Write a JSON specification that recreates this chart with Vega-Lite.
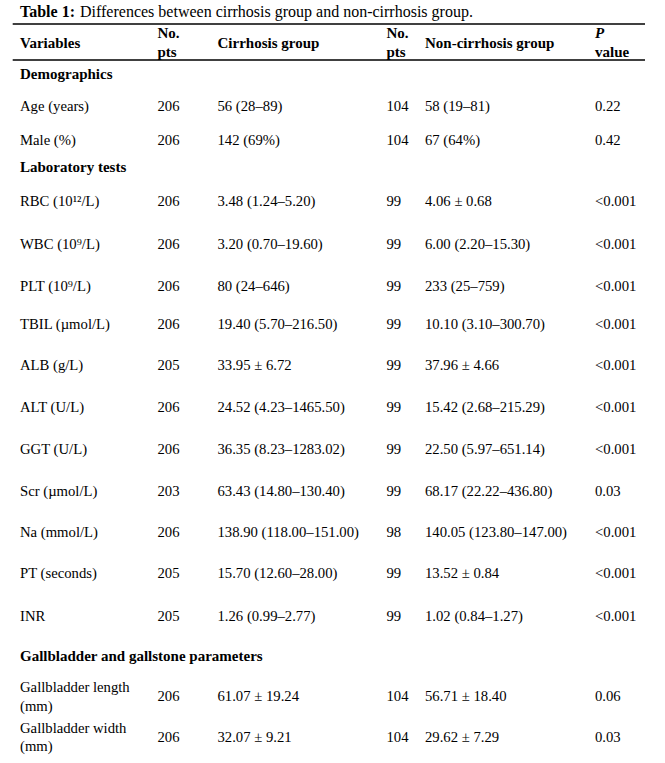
{
  "$schema": "https://vega.github.io/schema/vega-lite/v6.json",
  "width": 665,
  "height": 763,
  "padding": 0,
  "autosize": {"type": "fit", "contains": "padding"},
  "background": "white",
  "config": {
    "view": {"stroke": null},
    "font": "Liberation Serif",
    "text": {"font": "Liberation Serif", "fontSize": 14.5, "align": "left", "baseline": "middle", "color": "black"}
  },
  "datasets": {
    "cells": [
      {"line": 0, "col": 1, "kind": "titleBold", "text": "Table 1:"},
      {"line": 0, "col": 1, "kind": "title", "text": "Differences between cirrhosis group and non-cirrhosis group."},
      {"line": 3, "col": 1, "kind": "head", "text": "Variables"},
      {"line": 2, "col": 2, "kind": "head", "text": "No."},
      {"line": 4, "col": 2, "kind": "head", "text": "pts"},
      {"line": 3, "col": 3, "kind": "head", "text": "Cirrhosis group"},
      {"line": 2, "col": 4, "kind": "head", "text": "No."},
      {"line": 4, "col": 4, "kind": "head", "text": "pts"},
      {"line": 3, "col": 5, "kind": "head", "text": "Non-cirrhosis group"},
      {"line": 2, "col": 6, "kind": "headItalic", "text": "P"},
      {"line": 4, "col": 6, "kind": "head", "text": "value"},
      {"line": 6, "col": 1, "kind": "head", "text": "Demographics"},
      {"line": 9, "col": 1, "kind": "head", "text": "Laboratory tests"},
      {"line": 21, "col": 1, "kind": "head", "text": "Gallbladder and gallstone parameters"},

      {"line": 7, "col": 1, "kind": "cell", "text": "Age (years)"},
      {"line": 7, "col": 2, "kind": "cell", "text": "206"},
      {"line": 7, "col": 3, "kind": "cell", "text": "56 (28–89)"},
      {"line": 7, "col": 4, "kind": "cell", "text": "104"},
      {"line": 7, "col": 5, "kind": "cell", "text": "58 (19–81)"},
      {"line": 7, "col": 6, "kind": "cell", "text": "0.22"},

      {"line": 8, "col": 1, "kind": "cell", "text": "Male (%)"},
      {"line": 8, "col": 2, "kind": "cell", "text": "206"},
      {"line": 8, "col": 3, "kind": "cell", "text": "142 (69%)"},
      {"line": 8, "col": 4, "kind": "cell", "text": "104"},
      {"line": 8, "col": 5, "kind": "cell", "text": "67 (64%)"},
      {"line": 8, "col": 6, "kind": "cell", "text": "0.42"},

      {"line": 10, "col": 1, "kind": "cell", "text": "RBC (10¹²/L)"},
      {"line": 10, "col": 2, "kind": "cell", "text": "206"},
      {"line": 10, "col": 3, "kind": "cell", "text": "3.48 (1.24–5.20)"},
      {"line": 10, "col": 4, "kind": "cell", "text": "99"},
      {"line": 10, "col": 5, "kind": "cell", "text": "4.06 ± 0.68"},
      {"line": 10, "col": 6, "kind": "cell", "text": "<0.001"},

      {"line": 11, "col": 1, "kind": "cell", "text": "WBC (10⁹/L)"},
      {"line": 11, "col": 2, "kind": "cell", "text": "206"},
      {"line": 11, "col": 3, "kind": "cell", "text": "3.20 (0.70–19.60)"},
      {"line": 11, "col": 4, "kind": "cell", "text": "99"},
      {"line": 11, "col": 5, "kind": "cell", "text": "6.00 (2.20–15.30)"},
      {"line": 11, "col": 6, "kind": "cell", "text": "<0.001"},

      {"line": 12, "col": 1, "kind": "cell", "text": "PLT (10⁹/L)"},
      {"line": 12, "col": 2, "kind": "cell", "text": "206"},
      {"line": 12, "col": 3, "kind": "cell", "text": "80 (24–646)"},
      {"line": 12, "col": 4, "kind": "cell", "text": "99"},
      {"line": 12, "col": 5, "kind": "cell", "text": "233 (25–759)"},
      {"line": 12, "col": 6, "kind": "cell", "text": "<0.001"},

      {"line": 13, "col": 1, "kind": "cell", "text": "TBIL (µmol/L)"},
      {"line": 13, "col": 2, "kind": "cell", "text": "206"},
      {"line": 13, "col": 3, "kind": "cell", "text": "19.40 (5.70–216.50)"},
      {"line": 13, "col": 4, "kind": "cell", "text": "99"},
      {"line": 13, "col": 5, "kind": "cell", "text": "10.10 (3.10–300.70)"},
      {"line": 13, "col": 6, "kind": "cell", "text": "<0.001"},

      {"line": 14, "col": 1, "kind": "cell", "text": "ALB (g/L)"},
      {"line": 14, "col": 2, "kind": "cell", "text": "205"},
      {"line": 14, "col": 3, "kind": "cell", "text": "33.95 ± 6.72"},
      {"line": 14, "col": 4, "kind": "cell", "text": "99"},
      {"line": 14, "col": 5, "kind": "cell", "text": "37.96 ± 4.66"},
      {"line": 14, "col": 6, "kind": "cell", "text": "<0.001"},

      {"line": 15, "col": 1, "kind": "cell", "text": "ALT (U/L)"},
      {"line": 15, "col": 2, "kind": "cell", "text": "206"},
      {"line": 15, "col": 3, "kind": "cell", "text": "24.52 (4.23–1465.50)"},
      {"line": 15, "col": 4, "kind": "cell", "text": "99"},
      {"line": 15, "col": 5, "kind": "cell", "text": "15.42 (2.68–215.29)"},
      {"line": 15, "col": 6, "kind": "cell", "text": "<0.001"},

      {"line": 16, "col": 1, "kind": "cell", "text": "GGT (U/L)"},
      {"line": 16, "col": 2, "kind": "cell", "text": "206"},
      {"line": 16, "col": 3, "kind": "cell", "text": "36.35 (8.23–1283.02)"},
      {"line": 16, "col": 4, "kind": "cell", "text": "99"},
      {"line": 16, "col": 5, "kind": "cell", "text": "22.50 (5.97–651.14)"},
      {"line": 16, "col": 6, "kind": "cell", "text": "<0.001"},

      {"line": 17, "col": 1, "kind": "cell", "text": "Scr (µmol/L)"},
      {"line": 17, "col": 2, "kind": "cell", "text": "203"},
      {"line": 17, "col": 3, "kind": "cell", "text": "63.43 (14.80–130.40)"},
      {"line": 17, "col": 4, "kind": "cell", "text": "99"},
      {"line": 17, "col": 5, "kind": "cell", "text": "68.17 (22.22–436.80)"},
      {"line": 17, "col": 6, "kind": "cell", "text": "0.03"},

      {"line": 18, "col": 1, "kind": "cell", "text": "Na (mmol/L)"},
      {"line": 18, "col": 2, "kind": "cell", "text": "206"},
      {"line": 18, "col": 3, "kind": "cell", "text": "138.90 (118.00–151.00)"},
      {"line": 18, "col": 4, "kind": "cell", "text": "98"},
      {"line": 18, "col": 5, "kind": "cell", "text": "140.05 (123.80–147.00)"},
      {"line": 18, "col": 6, "kind": "cell", "text": "<0.001"},

      {"line": 19, "col": 1, "kind": "cell", "text": "PT (seconds)"},
      {"line": 19, "col": 2, "kind": "cell", "text": "205"},
      {"line": 19, "col": 3, "kind": "cell", "text": "15.70 (12.60–28.00)"},
      {"line": 19, "col": 4, "kind": "cell", "text": "99"},
      {"line": 19, "col": 5, "kind": "cell", "text": "13.52 ± 0.84"},
      {"line": 19, "col": 6, "kind": "cell", "text": "<0.001"},

      {"line": 20, "col": 1, "kind": "cell", "text": "INR"},
      {"line": 20, "col": 2, "kind": "cell", "text": "205"},
      {"line": 20, "col": 3, "kind": "cell", "text": "1.26 (0.99–2.77)"},
      {"line": 20, "col": 4, "kind": "cell", "text": "99"},
      {"line": 20, "col": 5, "kind": "cell", "text": "1.02 (0.84–1.27)"},
      {"line": 20, "col": 6, "kind": "cell", "text": "<0.001"},

      {"line": 22, "col": 1, "kind": "cell", "text": "Gallbladder length"},
      {"line": 24, "col": 1, "kind": "cell", "text": "(mm)"},
      {"line": 23, "col": 2, "kind": "cell", "text": "206"},
      {"line": 23, "col": 3, "kind": "cell", "text": "61.07 ± 19.24"},
      {"line": 23, "col": 4, "kind": "cell", "text": "104"},
      {"line": 23, "col": 5, "kind": "cell", "text": "56.71 ± 18.40"},
      {"line": 23, "col": 6, "kind": "cell", "text": "0.06"},

      {"line": 25, "col": 1, "kind": "cell", "text": "Gallbladder width"},
      {"line": 27, "col": 1, "kind": "cell", "text": "(mm)"},
      {"line": 26, "col": 2, "kind": "cell", "text": "206"},
      {"line": 26, "col": 3, "kind": "cell", "text": "32.07 ± 9.21"},
      {"line": 26, "col": 4, "kind": "cell", "text": "104"},
      {"line": 26, "col": 5, "kind": "cell", "text": "29.62 ± 7.29"},
      {"line": 26, "col": 6, "kind": "cell", "text": "0.03"}
    ],
    "rules": [{"line": 1}, {"line": 5}]
  },
  "layer": [
    {
      "data": {"name": "rules"},
      "mark": {"type": "rule", "color": "black", "strokeWidth": 1.3},
      "encoding": {
        "x": {"datum": 0, "type": "quantitative", "scale": {"domain": [0, 1, 2, 3, 4, 5, 6, 7], "range": [12.7, 20, 157.5, 217.5, 386.5, 425, 595, 645], "zero": false, "nice": false}, "axis": null},
        "x2": {"datum": 7},
        "y": {"field": "line", "type": "quantitative", "scale": {"domain": [0,1,2,3,4,5,6,7,8,9,10,11,12,13,14,15,16,17,18,19,20,21,22,23,24,25,26,27], "range": [12,24,33,43,52,60,74,107,141,167,202,245,287,325,366,408,450,492,533,574,617,656,688,697,707,729,738,747], "zero": false, "nice": false}, "axis": null}
      }
    },
    {
      "data": {"name": "cells"},
      "transform": [{"filter": "datum.kind === 'titleBold'"}],
      "mark": {"type": "text", "font": "Liberation Serif", "fontWeight": "bold", "fontSize": 16, "align": "left", "baseline": "middle", "color": "black"},
      "encoding": {
        "x": {"field": "col", "type": "quantitative"},
        "y": {"field": "line", "type": "quantitative"},
        "text": {"field": "text"}
      }
    },
    {
      "data": {"name": "cells"},
      "transform": [{"filter": "datum.kind === 'title'"}],
      "mark": {"type": "text", "font": "Liberation Serif", "fontSize": 16, "dx": 60, "align": "left", "baseline": "middle", "color": "black"},
      "encoding": {
        "x": {"field": "col", "type": "quantitative"},
        "y": {"field": "line", "type": "quantitative"},
        "text": {"field": "text"}
      }
    },
    {
      "data": {"name": "cells"},
      "transform": [{"filter": "datum.kind === 'head'"}],
      "mark": {"type": "text", "font": "Liberation Serif", "fontSize": 15, "fontWeight": "bold", "align": "left", "baseline": "middle", "color": "black"},
      "encoding": {
        "x": {"field": "col", "type": "quantitative"},
        "y": {"field": "line", "type": "quantitative"},
        "text": {"field": "text"}
      }
    },
    {
      "data": {"name": "cells"},
      "transform": [{"filter": "datum.kind === 'headItalic'"}],
      "mark": {"type": "text", "font": "Liberation Serif", "fontSize": 15, "fontWeight": "bold", "fontStyle": "italic", "align": "left", "baseline": "middle", "color": "black"},
      "encoding": {
        "x": {"field": "col", "type": "quantitative"},
        "y": {"field": "line", "type": "quantitative"},
        "text": {"field": "text"}
      }
    },
    {
      "data": {"name": "cells"},
      "transform": [{"filter": "datum.kind === 'cell'"}],
      "mark": {"type": "text", "font": "Liberation Serif", "fontSize": 14.7, "align": "left", "baseline": "middle", "color": "black"},
      "encoding": {
        "x": {"field": "col", "type": "quantitative"},
        "y": {"field": "line", "type": "quantitative"},
        "text": {"field": "text"}
      }
    }
  ]
}
